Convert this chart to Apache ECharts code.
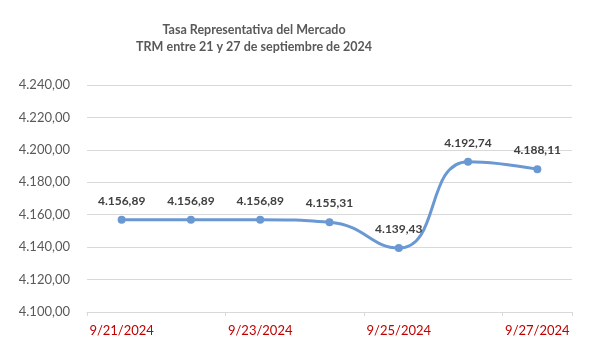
<!DOCTYPE html>
<html>
<head>
<meta charset="utf-8">
<script src="https://cdn.jsdelivr.net/npm/echarts@6/dist/echarts.min.js"></script>
<style>
  html, body { margin: 0; padding: 0; background: #fff; }
  #chart { width: 601px; height: 352px; }
</style>
</head>
<body>
<div id="chart"></div>
<script>
// datos TRM
const fechas = ['9/21/2024', '9/22/2024', '9/23/2024', '9/24/2024', '9/25/2024', '9/26/2024', '9/27/2024'];
const trm = [4156.89, 4156.89, 4156.89, 4155.31, 4139.43, 4192.74, 4188.11];
const tituloLineas = ['Tasa Representativa del Mercado', 'TRM entre 21 y 27 de septiembre de 2024'];

const FONT = 'Lato, "Open Sans", sans-serif';

// 4156.89 -> "4.156,89"
function fmtNum(v) {
    const parts = Number(v).toFixed(2).split('.');
    return parts[0].replace(/\B(?=(\d{3})+(?!\d))/g, '.') + ',' + parts[1];
}

const chart = echarts.init(document.getElementById('chart'));
chart.setOption({
    backgroundColor: '#fff',
    animation: false,
    title: {
        text: tituloLineas.join('\n'),
        left: 249, top: 16, textAlign: 'center',
        textStyle: { color: '#595959', fontSize: 12.5, fontWeight: 'bold', fontFamily: FONT, lineHeight: 17 }
    },
    grid: { left: 87, right: 29, top: 85, bottom: 40, containLabel: false },
    xAxis: {
        type: 'category', data: fechas, boundaryGap: true,
        axisLine: { lineStyle: { color: '#d9d9d9', width: 1 } },
        axisTick: { show: true, interval: 1, length: 4, lineStyle: { color: '#d9d9d9' } },
        axisLabel: { interval: 1, color: '#c00000', fontSize: 13, fontFamily: FONT, margin: 12 },
        splitLine: { show: false }
    },
    yAxis: {
        type: 'value', min: 4100, max: 4240, interval: 20,
        axisLine: { show: false }, axisTick: { show: false },
        axisLabel: { color: '#595959', fontSize: 13, fontFamily: FONT, margin: 17, formatter: v => fmtNum(v) },
        splitLine: { lineStyle: { color: '#d9d9d9', width: 1 } }
    },
    series: [{
        type: 'line', data: trm, smooth: 0.5,
        symbol: 'circle', symbolSize: 8,
        lineStyle: { color: '#6a98d2', width: 3 },
        itemStyle: { color: '#6a98d2' },
        label: {
            show: true, position: 'top', distance: 9,
            color: '#404040', fontSize: 12, fontWeight: 'bold', fontFamily: FONT,
            formatter: p => fmtNum(p.value)
        }
    }]
});
</script>
</body>
</html>
